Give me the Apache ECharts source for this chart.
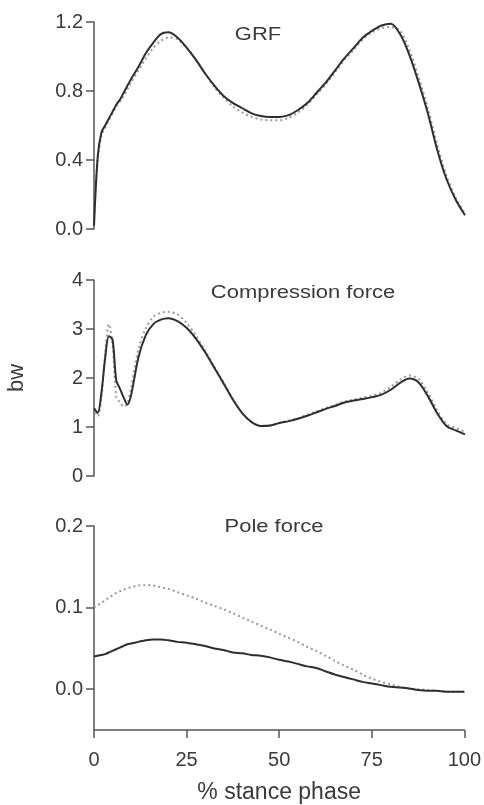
<!DOCTYPE html>
<html>
<head>
<meta charset="utf-8">
<script src="https://cdn.jsdelivr.net/npm/echarts@6/dist/echarts.min.js"></script>
<style>
  html, body { margin: 0; padding: 0; background: #fff; }
  #chart { width: 484px; height: 805px; }
</style>
</head>
<body>
<div id="chart"></div>
<script>
// % of stance phase at which each curve is sampled
const stance = [0, 1, 2, 3, 4, 5, 6, 7, 8, 9, 10, 12, 14, 16, 18, 20,
  22.5, 25, 27.5, 30, 32.5, 35, 37.5, 40, 42.5, 45, 47.5, 50, 52.5, 55, 57.5,
  60, 62.5, 65, 67.5, 70, 72.5, 75, 77.5, 80, 82.5, 85, 87.5, 90, 92.5, 95, 97.5, 100];

// Ground reaction force (bw)
const grfSolid = [0.02, 0.42, 0.56, 0.60, 0.64, 0.68, 0.72, 0.75, 0.79, 0.83, 0.87, 0.94, 1.02, 1.08, 1.13, 1.14,
  1.11, 1.05, 0.98, 0.90, 0.83, 0.77, 0.73, 0.70, 0.67, 0.655, 0.65, 0.65, 0.66, 0.69, 0.73,
  0.79, 0.85, 0.92, 0.99, 1.05, 1.11, 1.15, 1.18, 1.19, 1.13, 1.01, 0.85, 0.67, 0.46, 0.29, 0.17, 0.08];
const grfDotted = [0.04, 0.40, 0.54, 0.59, 0.63, 0.67, 0.71, 0.74, 0.77, 0.81, 0.85, 0.92, 0.99, 1.05, 1.09, 1.11,
  1.10, 1.05, 0.98, 0.90, 0.82, 0.76, 0.71, 0.675, 0.65, 0.635, 0.63, 0.63, 0.645, 0.675, 0.72,
  0.78, 0.84, 0.91, 0.98, 1.04, 1.10, 1.14, 1.165, 1.17, 1.15, 1.04, 0.88, 0.70, 0.49, 0.31, 0.18, 0.09];

// Compression force (bw)
const compSolid = [1.38, 1.29, 1.70, 2.40, 2.85, 2.78, 1.95, 1.78, 1.60, 1.46, 1.65, 2.43, 2.88, 3.10, 3.19, 3.22,
  3.16, 3.02, 2.80, 2.52, 2.20, 1.88, 1.55, 1.28, 1.10, 1.02, 1.03, 1.08, 1.12, 1.17, 1.23,
  1.30, 1.37, 1.43, 1.50, 1.54, 1.57, 1.61, 1.66, 1.76, 1.90, 1.99, 1.91, 1.63, 1.28, 1.02, 0.93, 0.85];
const compDotted = [1.40, 1.22, 1.60, 2.50, 3.10, 2.70, 1.62, 1.50, 1.42, 1.48, 1.80, 2.60, 3.02, 3.25, 3.33, 3.35,
  3.30, 3.12, 2.86, 2.55, 2.22, 1.90, 1.56, 1.28, 1.10, 1.02, 1.03, 1.08, 1.13, 1.18, 1.25,
  1.32, 1.39, 1.45, 1.52, 1.56, 1.60, 1.64, 1.70, 1.82, 1.96, 2.05, 1.98, 1.70, 1.34, 1.06, 0.98, 0.90];

// Pole force (bw)
const poleSolid = [0.040, 0.041, 0.042, 0.043, 0.045, 0.047, 0.049, 0.051, 0.053, 0.055, 0.056, 0.058, 0.060, 0.061, 0.061, 0.060,
  0.058, 0.057, 0.055, 0.053, 0.050, 0.048, 0.045, 0.044, 0.042, 0.041, 0.039, 0.036, 0.034, 0.031, 0.028,
  0.026, 0.022, 0.018, 0.015, 0.012, 0.009, 0.007, 0.005, 0.003, 0.002, 0.001, -0.001, -0.002, -0.002, -0.003, -0.003, -0.003];
const poleDotted = [0.100, 0.103, 0.106, 0.109, 0.112, 0.115, 0.118, 0.120, 0.122, 0.124, 0.125, 0.127, 0.1275, 0.127, 0.125, 0.123,
  0.119, 0.115, 0.111, 0.106, 0.102, 0.098, 0.093, 0.088, 0.083, 0.078, 0.073, 0.068, 0.063, 0.058, 0.052,
  0.047, 0.041, 0.035, 0.029, 0.024, 0.018, 0.013, 0.009, 0.006, 0.003, 0.001, 0.000, -0.001, -0.002, -0.003, -0.003, -0.003];

const xTicks = [0, 25, 50, 75, 100];
const poleTicks = [0, 0.1, 0.2];
const panelTitles = ['GRF', 'Compression force', 'Pole force'];

const FONT = 'Liberation Sans, Arial, sans-serif';
const TEXT = '#3a3a3a';
const AXIS = '#555';
const SOLID = '#2e2e2e';
const DOT = '#9a9a9a';

const pairs = ys => stance.map((x, i) => [x, ys[i]]);

const grids = [
  { left: 94, right: 19, top: 22, height: 207 },
  { left: 94, right: 19, top: 280, height: 196 },
  { left: 94, right: 19, top: 526, height: 205 }
];

function yAxisBase(gridIndex) {
  return {
    type: 'value', gridIndex,
    splitLine: { show: false },
    axisLine: { show: true, onZero: false, lineStyle: { color: AXIS, width: 1.5 } },
    axisTick: { show: true, length: 8, lineStyle: { color: AXIS, width: 1.5 } },
    axisLabel: { color: TEXT, fontFamily: FONT, fontSize: 20, margin: 11 }
  };
}

const yAxes = [
  Object.assign(yAxisBase(0), { min: 0, max: 1.2, interval: 0.4 }),
  Object.assign(yAxisBase(1), { min: 0, max: 4, interval: 1 }),
  Object.assign(yAxisBase(2), { min: -0.05, max: 0.2 })
];
yAxes[0].axisLabel.formatter = v => v.toFixed(1);
yAxes[1].axisLabel.formatter = v => String(Math.round(v));
yAxes[2].axisTick.customValues = poleTicks;
yAxes[2].axisLabel.customValues = poleTicks;
yAxes[2].axisLabel.formatter = v => v.toFixed(1);

const xAxes = [0, 1, 2].map(i => ({
  type: 'value', gridIndex: i, min: 0, max: 100, interval: 25,
  show: i === 2,
  splitLine: { show: false },
  axisLine: { show: true, onZero: false, lineStyle: { color: AXIS, width: 1.5 } },
  axisTick: { show: true, length: 8, lineStyle: { color: AXIS, width: 1.5 } },
  axisLabel: { color: TEXT, fontFamily: FONT, fontSize: 20, margin: 20,
    customValues: xTicks },
  name: i === 2 ? '% stance phase' : '',
  nameLocation: 'middle', nameGap: 51,
  nameTextStyle: { color: TEXT, fontFamily: FONT, fontSize: 23 }
}));

function line(idx, ys, dotted) {
  return {
    type: 'line', xAxisIndex: idx, yAxisIndex: idx,
    data: pairs(ys), showSymbol: false, smooth: 0.3,
    z: dotted ? 2 : 3,
    lineStyle: dotted
      ? { color: DOT, width: 2, type: [2, 3] }
      : { color: SOLID, width: 2 }
  };
}

const titlePos = [[258, 35], [303, 293], [274, 527]];

const option = {
  animation: false,
  backgroundColor: '#fff',
  grid: grids,
  xAxis: xAxes,
  yAxis: yAxes,
  series: [
    line(0, grfDotted, true), line(0, grfSolid, false),
    line(1, compDotted, true), line(1, compSolid, false),
    line(2, poleDotted, true), line(2, poleSolid, false)
  ],
  graphic: panelTitles.map((t, i) => ({
    type: 'text', x: titlePos[i][0], y: titlePos[i][1], scaleX: 1.22,
    style: { text: t, fill: TEXT, font: '18px ' + FONT, textAlign: 'center', textVerticalAlign: 'middle' }
  })).concat([{
    type: 'text', x: 17, y: 378, rotation: Math.PI / 2,
    style: { text: 'bw', fill: TEXT, font: '22px ' + FONT, textAlign: 'center', textVerticalAlign: 'middle' }
  }])
};

echarts.init(document.getElementById('chart')).setOption(option);
</script>
</body>
</html>
